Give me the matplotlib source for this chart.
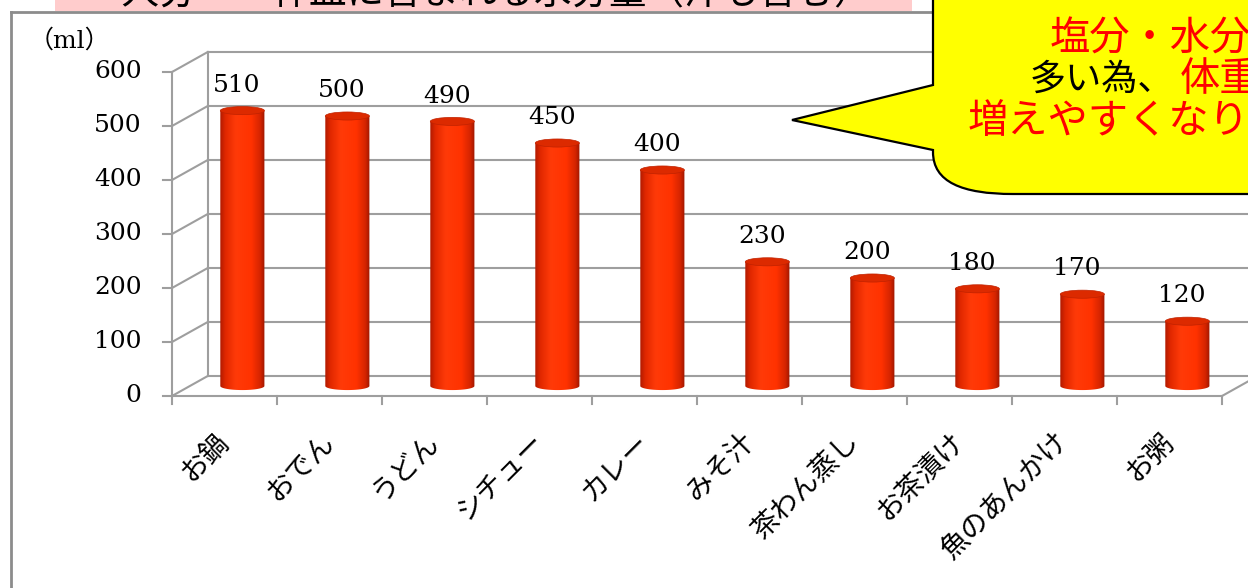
import numpy as np
import matplotlib
matplotlib.use("Agg")
import matplotlib.pyplot as plt
from matplotlib.patches import Polygon, Ellipse, PathPatch, Rectangle
from matplotlib.path import Path
from matplotlib.colors import LinearSegmentedColormap

# データ
categories = ["お鍋", "おでん", "うどん", "シチュー", "カレー", "みそ汁",
              "茶わん蒸し", "お茶漬け", "魚のあんかけ", "お粥"]
values = [510, 500, 490, 450, 400, 230, 200, 180, 170, 120]
yticks = [0, 100, 200, 300, 400, 500, 600]
unit_label = "（ml）"
title_text = "一人分・一杯皿に含まれる水分量（汁も含む）"
callout_lines = ["塩分・水分が", "多い為、", "体重が", "増えやすくなります"]

W, H = 1248, 588
fig = plt.figure(figsize=(W / 100, H / 100), dpi=100)

# 3D風の疑似奥行き (データ単位)
DX = 0.34
DY = 37
x0_px, unit_px = 172, 105       # x=0 の位置, 1カテゴリの幅
y0_px, ml_px = 396, 0.54        # y=0 の位置, 1ml あたりの px

ax = fig.add_axes([0, 0, 1, 1])
ax.axis("off")

grid_c = "#9E9E9E"
n = len(categories)
ymax = yticks[-1]

# 奥の壁・横の壁
for v in yticks:
    ax.plot([DX, n + DX + 1], [v + DY, v + DY], color=grid_c, lw=1.5, zorder=1)
    ax.plot([0, DX], [v, v + DY], color=grid_c, lw=1.5, zorder=1)
    ax.plot([-0.09, 0], [v, v], color=grid_c, lw=1.5, zorder=1)
    ax.text(-0.29, v, str(v), ha="right", va="center", fontsize=18,
            family="DejaVu Serif")
ax.plot([DX, DX], [DY, ymax + DY], color=grid_c, lw=1.5, zorder=1)
ax.plot([0, 0], [0, ymax], color=grid_c, lw=1.5, zorder=1)

# 床
ax.plot([0, n], [0, 0], color=grid_c, lw=1.5, zorder=1)
ax.plot([n, n + DX], [0, DY], color=grid_c, lw=1.5, zorder=1)
for i in range(n + 1):
    ax.plot([i, i], [0, -15], color=grid_c, lw=1.5, zorder=1)

# 円柱
cmap = LinearSegmentedColormap.from_list("cyl", [
    (0.0, "#B01A00"), (0.12, "#E02800"), (0.35, "#FF3A08"),
    (0.7, "#FF3200"), (0.9, "#D42400"), (1.0, "#9C1600")])
grad = np.linspace(0, 1, 256).reshape(1, -1)
bw = 0.42
eh = 15
for i, v in enumerate(values):
    cx = i + 0.5 + DX / 2
    base = DY / 2
    top = v + DY / 2
    t = np.linspace(np.pi, 2 * np.pi, 40)
    arc = np.column_stack([cx + bw / 2 * np.cos(t), base + eh / 2 * np.sin(t)])
    verts = np.vstack([[[cx - bw / 2, top]], arc, [[cx + bw / 2, top]]])
    clip = Polygon(verts, closed=True, transform=ax.transData)
    im = ax.imshow(grad, extent=[cx - bw / 2, cx + bw / 2, base - eh, top],
                   cmap=cmap, aspect="auto", zorder=3, interpolation="bilinear")
    im.set_clip_path(clip)
    ax.add_patch(Ellipse((cx, top), bw, eh, facecolor="#DC2A00",
                         edgecolor="#C02200", lw=0.5, zorder=4))
    ax.text(cx - 0.05, top + 47, str(v), ha="center", va="center",
            fontsize=18, family="DejaVu Serif")

# カテゴリラベル
for i, c in enumerate(categories):
    ax.text(i + 0.40, -57, c, rotation=45, rotation_mode="anchor",
            ha="right", va="top", fontsize=20, family="Noto Sans CJK JP")

ax.text(-0.98, 658, unit_label, ha="center", va="center", fontsize=18,
        family=["DejaVu Serif", "Noto Sans CJK JP"])

ax.set_xlim(-x0_px / unit_px, (W - x0_px) / unit_px)
ax.set_ylim(-(H - y0_px) / ml_px, y0_px / ml_px)

# 枠・タイトル・吹き出し (ピクセル座標)
deco = fig.add_axes([0, 0, 1, 1], zorder=5)
deco.axis("off")
deco.patch.set_visible(False)
deco.set_xlim(0, W)
deco.set_ylim(H, 0)

deco.add_patch(Rectangle((55, -5), 857, 16, facecolor="#FFCCCC",
                         edgecolor="none", zorder=1))
deco.text(478, 3, title_text, ha="center", va="baseline", fontsize=27,
          family="Noto Sans CJK JP", zorder=2)
deco.plot([11, 935], [12, 12], color="#8C8C8C", lw=2, zorder=2)
deco.plot([11, 11], [12, H + 5], color="#8C8C8C", lw=2, zorder=2)

codes = [Path.MOVETO, Path.LINETO, Path.LINETO, Path.LINETO, Path.LINETO,
         Path.CURVE4, Path.CURVE4, Path.CURVE4,
         Path.LINETO, Path.LINETO, Path.CLOSEPOLY]
verts = [(933, -5), (933, 85), (792, 120), (933, 150), (933, 152),
         (933, 182), (962, 194), (1013, 194),
         (1265, 194), (1265, -5), (933, -5)]
deco.add_patch(PathPatch(Path(verts, codes), facecolor="#FFFF00",
                         edgecolor="black", lw=1.6, zorder=3))

deco.text(1050, 38, callout_lines[0], ha="left", va="center", fontsize=29,
          color="#FF0000", family="Noto Sans CJK JP", zorder=4)
deco.text(1030, 80, callout_lines[1], ha="left", va="center", fontsize=26,
          color="black", family="Noto Sans CJK JP", zorder=4)
deco.text(1180, 80, callout_lines[2], ha="left", va="center", fontsize=29,
          color="#FF0000", family="Noto Sans CJK JP", zorder=4)
deco.text(968, 122, callout_lines[3], ha="left", va="center", fontsize=29,
          color="#FF0000", family="Noto Sans CJK JP", zorder=4)

fig.savefig("out.png", dpi=100)
